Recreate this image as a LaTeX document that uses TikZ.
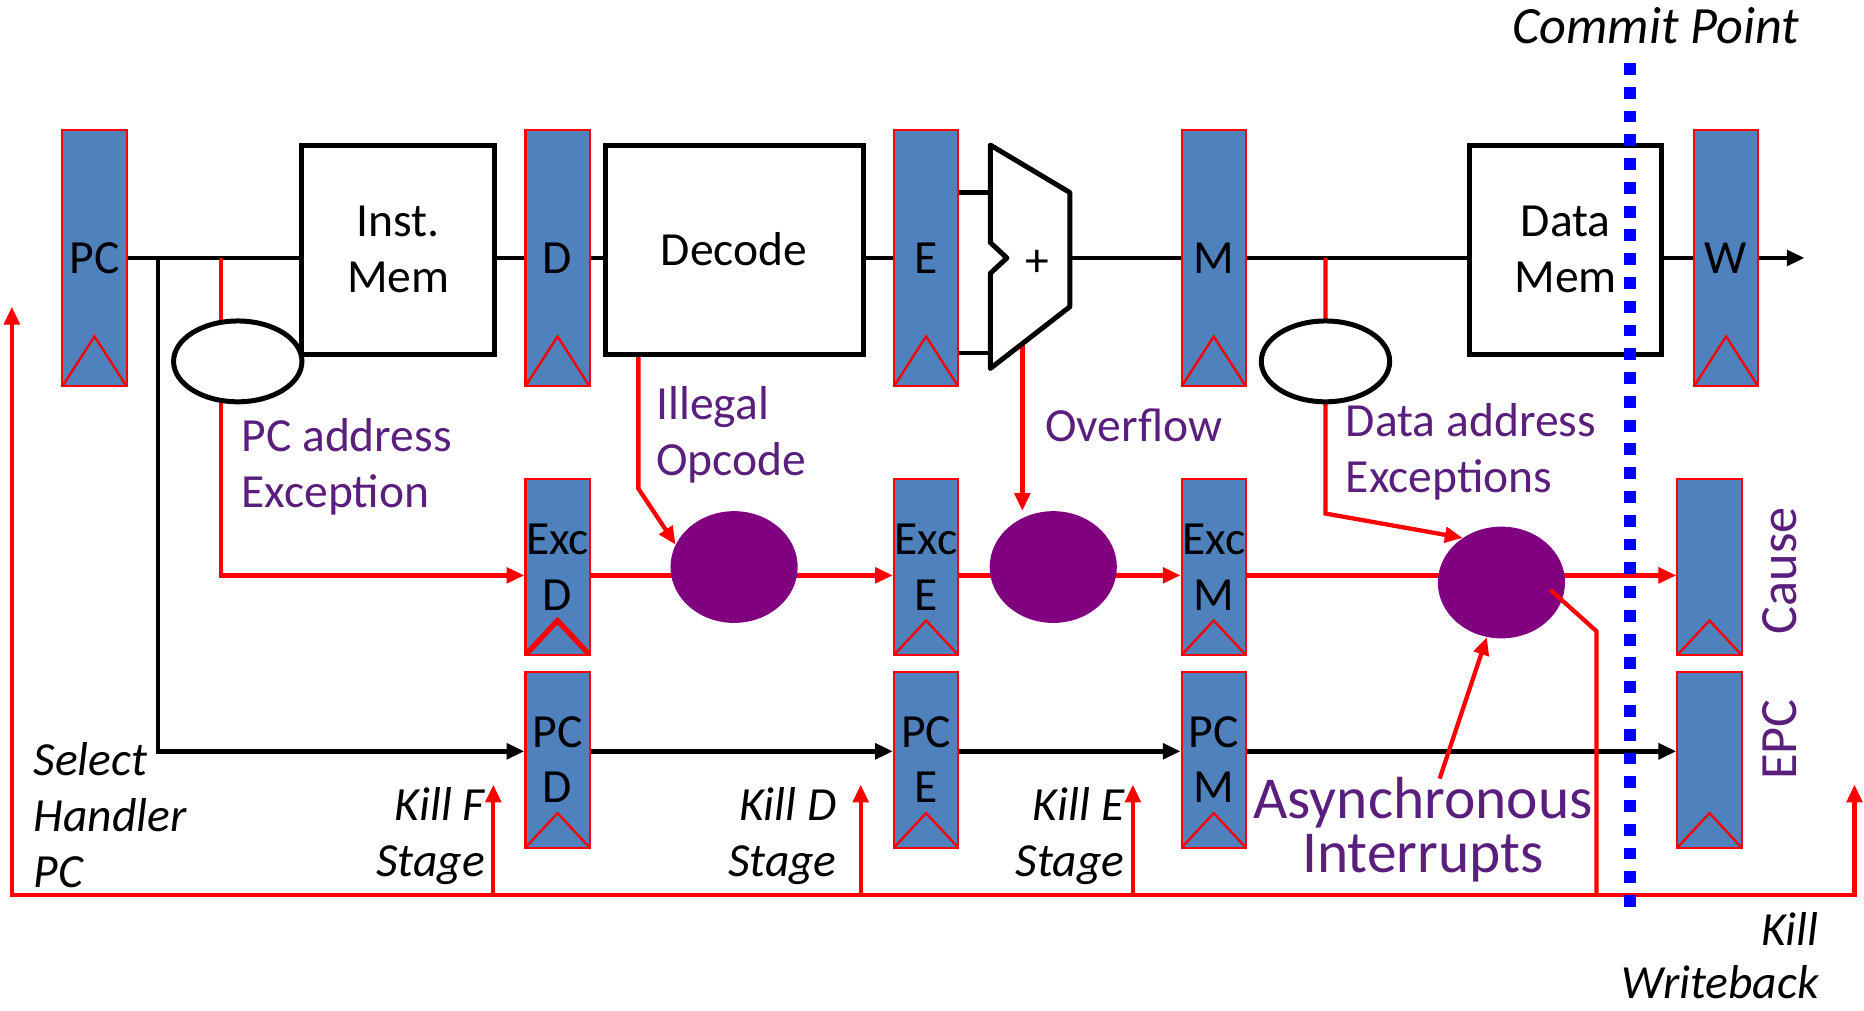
\documentclass[tikz,border=0pt]{standalone}
\usepackage{fontspec}
\setmainfont{Carlito}
\usetikzlibrary{arrows.meta,calc,shapes.geometric}
\definecolor{regblue}{RGB}{79,129,189}
\definecolor{ptext}{RGB}{90,30,125}
\definecolor{pcirc}{RGB}{128,0,128}
\definecolor{dotblue}{RGB}{0,0,255}
\pgfdeclarelayer{bg}
\pgfsetlayers{bg,main}
\begin{document}
\begin{tikzpicture}[x=1pt,y=-1pt,
  >={Triangle[length=15pt,width=13pt]},
  regbase/.style={draw=red, fill=regblue, line width=1.8pt, minimum width=54pt,
    inner sep=0pt, align=center, font=\fontsize{40}{47}\selectfont},
  bigreg/.style={regbase, minimum height=216pt,
    path picture={\draw[red,line width=2pt] (path picture bounding box.south west) --
      ([yshift=42pt]path picture bounding box.south) -- (path picture bounding box.south east);}},
  smallreg/.style={regbase, minimum height=148pt,
    path picture={\draw[red,line width=2pt] (path picture bounding box.south west) --
      ([yshift=29pt]path picture bounding box.south) -- (path picture bounding box.south east);}},
  smallregb/.style={regbase, minimum height=148pt,
    path picture={\draw[red,line width=4.5pt] (path picture bounding box.south west) --
      ([yshift=29pt]path picture bounding box.south) -- (path picture bounding box.south east);}},
  box/.style={draw=black, fill=white, line width=4.2pt, align=center, inner sep=0pt,
    font=\fontsize{40}{47}\selectfont},
  oval/.style={draw=black, fill=white, line width=4.2pt, ellipse, minimum width=108pt, minimum height=68pt, inner sep=0pt},
  blob/.style={fill=pcirc, ellipse, minimum width=107pt, minimum height=94pt, inner sep=0pt},
  wire/.style={draw=black, line width=3.8pt},
  rwire/.style={draw=red, line width=3.6pt},
  ptxt/.style={text=ptext, inner sep=0pt, font=\fontsize{40}{47}\selectfont},
  itxt/.style={text=black, inner sep=0pt, font=\fontsize{40}{47}\selectfont\itshape},
]
\useasboundingbox (0,0) rectangle (1568,850);

% ---------- registers ----------
\node[bigreg] (pc) at (79.5,217) {PC};
\node[bigreg] (d) at (469,217) {D};
\node[bigreg] (e) at (779,217) {E};
\node[bigreg] (m) at (1021,217) {M};
\node[bigreg] (w) at (1452,217) {W};

\node[smallregb] (excD) at (469,477) {Exc\\D};
\node[smallreg] (excE) at (779,477) {Exc\\E};
\node[smallreg] (excM) at (1021,477) {Exc\\M};
\node[smallreg] (cause) at (1438,477) {};

\node[smallreg] (pcD) at (469,639) {PC\\D};
\node[smallreg] (pcE) at (779,639) {PC\\E};
\node[smallreg] (pcM) at (1021,639) {PC\\M};
\node[smallreg] (epc) at (1438,639) {};

% ---------- boxes ----------
\node[box, minimum width=162pt, minimum height=176pt] (imem) at (335,210) {Inst.\\Mem};
\node[box, minimum width=217pt, minimum height=176pt] (decode) at (617.5,210) {Decode};
\node[box, minimum width=162pt, minimum height=176pt] (dmem) at (1317,210) {Data\\Mem};

% ---------- ALU ----------
\coordinate (a1) at (833,122);
\coordinate (a2) at (900,162);
\coordinate (a3) at (900,258);
\coordinate (a4) at (833,310);
\coordinate (a5) at (833,230);
\coordinate (a6) at (847,217);
\coordinate (a7) at (833,204);
\coordinate (ai1) at (833,162);
\coordinate (ai2) at (833,297);
\coordinate (ao) at (900,217);
\draw[line width=4.2pt, fill=white, line join=round] (a1) -- (a2) -- (a3) -- (a4) -- (a5) -- (a6) -- (a7) -- cycle;
\node[inner sep=0pt, font=\fontsize{40}{47}\selectfont] (plus) at (873,222) {+};

% ---------- ovals and blobs ----------
\node[oval] (e1) at (200,304) {};
\node[oval] (e2) at (1115,304) {};
\node[blob] (c1) at (617.5,477) {};
\node[blob] (c2) at (886,477) {};
\node[blob] (c3) at (1263,490) {};

% ---------- coordinates ----------
\coordinate (j0) at (133,217);
\coordinate (j1) at (186,217);
\coordinate (j2) at (1115,217);
\coordinate (dk) at (1115,432);
\coordinate (io) at (537,411);
\coordinate (ov) at (860,289);
\coordinate (wout) at (1518,217);
\coordinate (as) at (1211,655);
\coordinate (lt) at (10,258);
\coordinate (bl) at (10,753);
\coordinate (br) at (1560,753);
\coordinate (rt) at (1560,660);
\coordinate (kf) at (415,660);
\coordinate (kd) at (724,660);
\coordinate (ke) at (953,660);
\coordinate (c3s) at (1304,496);
\coordinate (c3k) at (1343,531);
\coordinate (cp0) at (1371,53);
\coordinate (cp1) at (1371,773);

% ---------- wires (background) ----------
\begin{pgfonlayer}{bg}
\draw[wire] (pc.east) -- (pc.east -| imem.west);
\draw[wire] (imem.east |- d.west) -- (d.west);
\draw[wire] (d.east) -- (d.east -| decode.west);
\draw[wire] (decode.east |- e.west) -- (e.west);
\draw[wire] (e.east |- ai1) -- (ai1);
\draw[wire] (e.east |- ai2) -- (ai2);
\draw[wire] (ao) -- (ao -| m.west);
\draw[wire] (m.east) -- (m.east -| dmem.west);
\draw[wire] (dmem.east |- w.west) -- (w.west);
\draw[wire,->] (w.east) -- (wout);

\draw[wire,->] (j0) |- ([yshift=7pt]pcD.west);
\draw[wire,->] ([yshift=7pt]pcD.east) -- ([yshift=7pt]pcE.west);
\draw[wire,->] ([yshift=7pt]pcE.east) -- ([yshift=7pt]pcM.west);
\draw[wire,->] ([yshift=7pt]pcM.east) -- ([yshift=7pt]epc.west);

\draw[rwire,->] (j1) |- ([yshift=-7pt]excD.west);
\draw[rwire,->] ([yshift=-7pt]excD.east) -- ([yshift=-7pt]excE.west);
\draw[rwire,->] ([yshift=-7pt]excE.east) -- ([yshift=-7pt]excM.west);
\draw[rwire,->] ([yshift=-7pt]excM.east) -- ([yshift=-7pt]cause.west);
\draw[rwire,->] (decode.south -| io) -- (io) -- (c1.159);
\draw[rwire,->] (ov) -- (ov |- c2.north);
\draw[rwire,->] (j2) -- (dk) -- (c3.131);
\draw[rwire,->] (as) -- (c3.-105);

\draw[rwire,<->] (lt) -- (bl) -- (br) -- (rt);
\draw[rwire,->] (kf |- br) -- (kf);
\draw[rwire,->] (kd |- br) -- (kd);
\draw[rwire,->] (ke |- br) -- (ke);
\end{pgfonlayer}

\draw[rwire, line join=round] (c3s) -- (c3k) -- (c3k |- br);

% ---------- labels ----------
\node[ptxt, anchor=west, align=left] (lpca) at (203,393) {PC address\\Exception};
\node[ptxt, anchor=west, align=left] (lill) at (552,366) {Illegal\\Opcode};
\node[ptxt, anchor=west] (lovf) at (879,358) {Overflow};
\node[ptxt, anchor=west, align=left] (ldae) at (1132,380) {Data address\\Exceptions};
\node[ptxt, align=center, font=\fontsize{50}{46}\selectfont] (lasy) at (1197,698) {Asynchronous\\Interrupts};
\node[ptxt, rotate=90, font=\fontsize{44}{47}\selectfont] (lcause) at (1497,480) {Cause};
\node[ptxt, rotate=90, font=\fontsize{44}{47}\selectfont] (lepc) at (1497,622) {EPC};

\node[itxt, anchor=west, align=left] (lsel) at (28,686) {Select\\Handler\\PC};
\node[itxt, anchor=east, align=right] (lkf) at (408,703) {Kill F\\Stage};
\node[itxt, anchor=east, align=right] (lkd) at (704,703) {Kill D\\Stage};
\node[itxt, anchor=east, align=right] (lke) at (946,703) {Kill E\\Stage};
\node[itxt, anchor=east, align=right, font=\fontsize{40}{45}\selectfont\itshape] (lkw) at (1530,804) {Kill\\Writeback};
\node[itxt, font=\fontsize{44}{48}\selectfont\itshape] (lcp) at (1393,22) {Commit Point};

% ---------- commit line ----------
\draw[dotblue, line width=10pt, dash pattern=on 10pt off 10pt] (cp0) -- (cp1);
\end{tikzpicture}
\end{document}
